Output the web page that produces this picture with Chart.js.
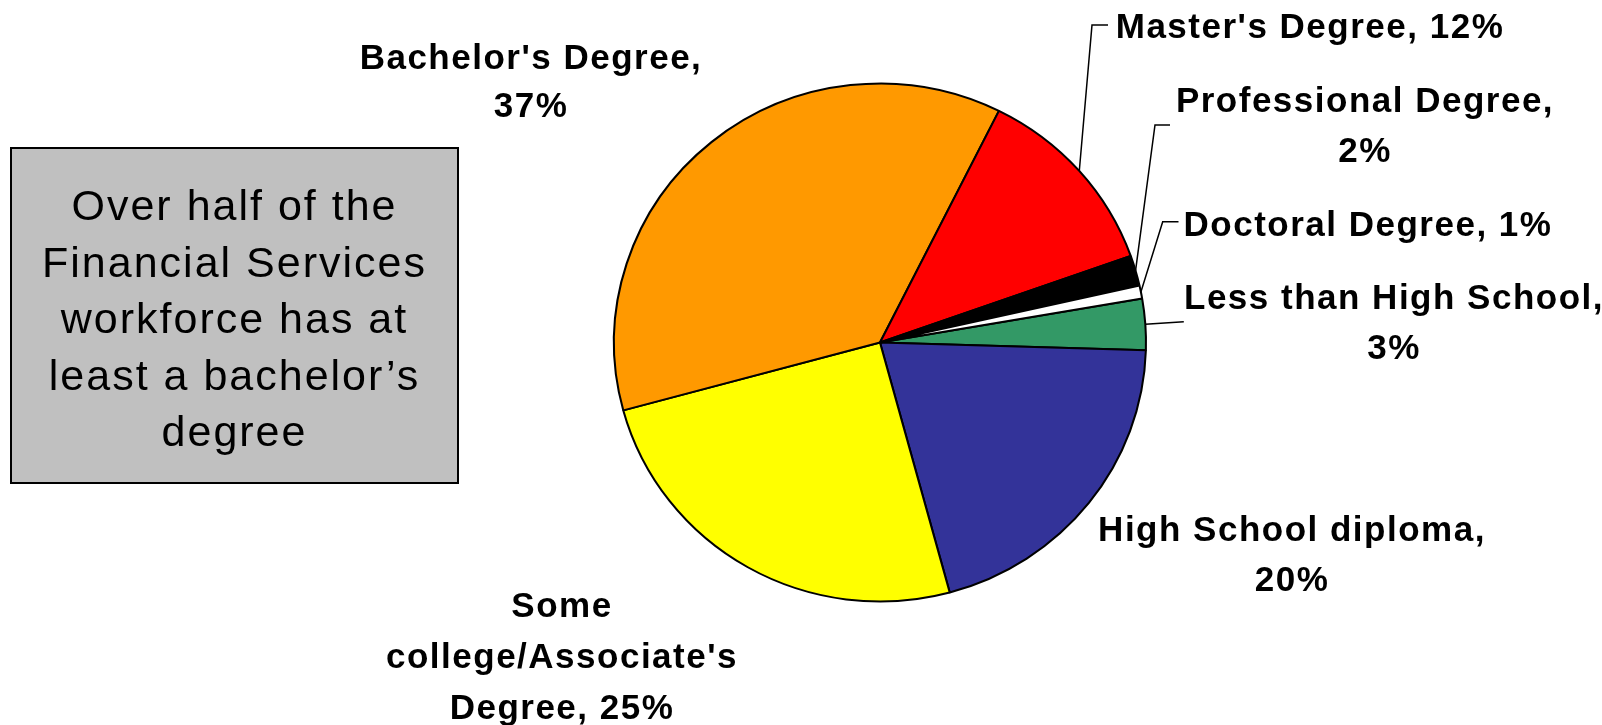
<!DOCTYPE html>
<html><head><meta charset="utf-8">
<script src="https://cdn.jsdelivr.net/npm/chart.js@4/dist/chart.umd.min.js"></script>
<style>html,body{margin:0;padding:0;background:#fff;}#wrap{position:relative;width:1602px;height:725px;}canvas{display:block;}</style>
</head><body><div id="wrap"><canvas id="c" width="1602" height="725"></canvas></div>
<script>
// ---- data ----
const categories = ["Less than High School", "High School diploma", "Some college/Associate's Degree", "Bachelor's Degree", "Master's Degree", "Professional Degree", "Doctoral Degree"];
const shares = [3.2, 20.3, 25.0, 36.6, 12.2, 1.9, 0.8];
const shareLabels = ["3%", "20%", "25%", "37%", "12%", "2%", "1%"];
const sliceColors = ["#339966", "#333399", "#FFFF00", "#FF9900", "#FF0000", "#000000", "#FFFFFF"];
const calloutLines = ["Over half of the", "Financial Services", "workforce has at", "least a bachelor\u2019s", "degree"];

// ---- layout (positions / styles only) ----
const SX = 266 / 259; // horizontal stretch of the pie (reference is slightly elliptical)
const labelLayout = [
  {x: 1394, y: 309, lh: 50, wrap: [4, 1], leader: {knee: null, end: [1183.8, 321.7]}},
  {x: 1292, y: 541,   lh: 50, wrap: [3, 1]},
  {x: 562,  y: 617, lh: 51, wrap: [1, 1, 2]},
  {x: 531,  y: 69,  lh: 48.4, wrap: [2, 1]},
  {x: 1310, y: 38,  lh: 50, wrap: [3], leader: {knee: [1092, 25], end: [1108, 25]}},
  {x: 1365, y: 112, lh: 50, wrap: [2, 1], leader: {knee: [1155, 125], end: [1170, 125]}},
  {x: 1368, y: 235.5,   lh: 50, wrap: [3], leader: {knee: [1162.7, 221.7], end: [1178.5, 221.7]}}
];
const box = {x: 11, y: 148, w: 447, h: 335, fill: '#C0C0C0'};
const boxText = {cx: 234.5, y0: 220, lh: 56.5, font: '43px "Liberation Sans", Arial, sans-serif', spacing: '2px'};
const labelFont = 'bold 35px "Liberation Sans", Arial, sans-serif';

const stretchPlugin = {
  id: 'stretch',
  beforeDatasetsDraw(chart) {
    const a = chart.getDatasetMeta(0).data[0];
    const ctx = chart.ctx;
    ctx.save();
    ctx.translate(a.x, 0);
    ctx.scale(SX, 1);
    ctx.translate(-a.x, 0);
  },
  afterDatasetsDraw(chart) { chart.ctx.restore(); }
};

const labelPlugin = {
  id: 'labels',
  afterDraw(chart) {
    const ctx = chart.ctx;
    // callout box
    ctx.save();
    ctx.fillStyle = box.fill;
    ctx.fillRect(box.x, box.y, box.w, box.h);
    ctx.lineWidth = 2;
    ctx.strokeStyle = '#000';
    ctx.strokeRect(box.x, box.y, box.w, box.h);
    ctx.fillStyle = '#000';
    ctx.font = boxText.font;
    ctx.letterSpacing = boxText.spacing;
    ctx.textAlign = 'center';
    ctx.textBaseline = 'alphabetic';
    calloutLines.forEach((t, i) => ctx.fillText(t, boxText.cx, boxText.y0 + i * boxText.lh));
    ctx.restore();

    // data labels and leader lines
    const arcs = chart.getDatasetMeta(0).data;
    ctx.save();
    ctx.font = labelFont;
    ctx.letterSpacing = '1.5px';
    ctx.textAlign = 'center';
    ctx.textBaseline = 'alphabetic';
    ctx.fillStyle = '#000';
    ctx.strokeStyle = '#000';
    ctx.lineWidth = 1.5;
    categories.forEach((cat, i) => {
      const L = labelLayout[i];
      const words = (cat + ', ' + shareLabels[i]).split(' ');
      let k = 0;
      L.wrap.forEach((n, li) => {
        const line = words.slice(k, k + n).join(' ');
        k += n;
        ctx.fillText(line, L.x, L.y + li * L.lh);
      });
      if (L.leader) {
        const a = arcs[i];
        const mid = (a.startAngle + a.endAngle) / 2;
        const px = a.x + Math.cos(mid) * a.outerRadius * SX;
        const py = a.y + Math.sin(mid) * a.outerRadius;
        ctx.beginPath();
        ctx.moveTo(px, py);
        if (L.leader.knee) ctx.lineTo(L.leader.knee[0], L.leader.knee[1]);
        ctx.lineTo(L.leader.end[0], L.leader.end[1]);
        ctx.stroke();
      }
    });
    ctx.restore();
  }
};

new Chart(document.getElementById('c'), {
  type: 'pie',
  data: {
    labels: categories,
    datasets: [{data: shares, backgroundColor: sliceColors, borderColor: '#000', borderWidth: 2}]
  },
  options: {
    responsive: false,
    animation: false,
    rotation: 80.2,
    radius: 259,
    layout: {padding: {left: 400, right: 242, top: 60, bottom: 100}},
    plugins: {legend: {display: false}, tooltip: {enabled: false}}
  },
  plugins: [stretchPlugin, labelPlugin]
});
</script>
</body></html>
